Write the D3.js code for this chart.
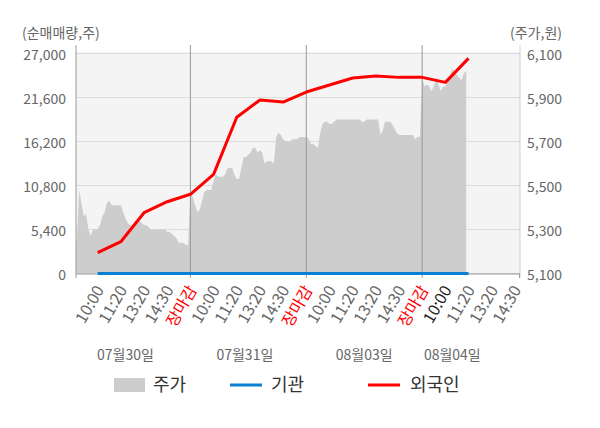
<!DOCTYPE html>
<html><head><meta charset="utf-8">
<script src="https://cdn.jsdelivr.net/npm/d3@7/dist/d3.min.js"></script>
<style>
html,body{margin:0;padding:0;background:#fff;}
text{font-family:"Noto Sans CJK KR","Noto Sans",sans-serif;}
</style></head>
<body><svg id="c" width="600" height="428"></svg>
<script>
// ---- data ----
const leftTicks = [0, 5400, 10800, 16200, 21600, 27000];
const rightTicks = [5100, 5300, 5500, 5700, 5900, 6100];
const timeLabels = ["10:00","11:20","13:20","14:30","장마감",
                    "10:00","11:20","13:20","14:30","장마감",
                    "10:00","11:20","13:20","14:30","장마감",
                    "10:00","11:20","13:20","14:30"];
const dayLabels = ["07월30일","07월31일","08월03일","08월04일"];
const daySlots = [2.2, 7.35, 12.5, 16.3];
const dayBoundaries = [5, 10, 15];
// price sampled every 0.1 slot
const priceValues = [
 5250,5250,5480,5420,5360,5370,5300,5270,5300,5300,
 5300,5320,5360,5380,5420,5430,5410,5410,5410,5410,
 5410,5380,5350,5330,5320,5320,5330,5340,5340,5330,
 5320,5320,5310,5300,5300,5300,5300,5300,5300,5300,
 5290,5290,5280,5270,5260,5240,5240,5240,5230,5230,
 5460,5450,5410,5380,5390,5430,5470,5480,5480,5480,
 5520,5550,5540,5540,5540,5550,5580,5580,5580,5550,
 5530,5530,5580,5630,5630,5640,5650,5670,5670,5650,
 5660,5650,5600,5610,5610,5610,5600,5720,5740,5730,
 5710,5700,5700,5700,5710,5710,5710,5720,5720,5720,
 5720,5710,5690,5690,5680,5670,5740,5780,5790,5790,
 5780,5780,5790,5800,5800,5800,5800,5800,5800,5800,
 5800,5800,5800,5800,5790,5790,5800,5800,5800,5800,
 5800,5800,5730,5750,5790,5790,5790,5780,5760,5740,
 5730,5730,5730,5730,5730,5730,5730,5710,5720,5720,
 5990,5950,5960,5950,5930,5950,5990,5960,5930,5950,
 5950,5980,6000,6030,6020,6000,5990,5980,6010,6020
];
// net buy cumulative at slots 1..17
const flowSlots = [1,2,3,4,5,6,7,8,9,10,11,12,13,14,15,16,17];
const institution = [0,0,0,0,0,0,0,0,0,0,0,0,0,0,0,0,0];
const foreign = [2550,3900,7460,8810,9720,12170,19170,21290,21040,22270,23130,23990,24230,24070,24070,23460,26400];

// ---- layout ----
const svg = d3.select("#c");
const L = 76, R = 520, T = 52, B = 273.5;
const x = d3.scaleLinear().domain([0, 19.22]).range([74.5, 520]);
const yL = d3.scaleLinear().domain([0, 27000]).range([273.5, 53.5]);
const yR = d3.scaleLinear().domain([5100, 6100]).range([273.5, 53.5]);
const grey = "#666";

svg.append("rect").attr("x", L).attr("y", T).attr("width", R - L).attr("height", B - T).attr("fill", "#f4f4f4");

svg.append("defs").append("clipPath").attr("id", "clip")
  .append("rect").attr("x", L).attr("y", T).attr("width", R - L).attr("height", B - T);

// gridlines
svg.append("g").selectAll("line").data(leftTicks).join("line")
  .attr("x1", L).attr("x2", R).attr("y1", d => yL(d)).attr("y2", d => yL(d))
  .attr("stroke", "#dcdcdc").attr("stroke-width", 1);

// price area
const area = d3.area().x((d, i) => x(i * 0.1)).y0(yR(5100)).y1(d => yR(d));
svg.append("path").datum(priceValues).attr("d", area).attr("fill", "#cdcdcd")
  .attr("clip-path", "url(#clip)");

// vertical lines
svg.append("g").selectAll("line").data(dayBoundaries).join("line")
  .attr("x1", d => x(d)).attr("x2", d => x(d)).attr("y1", 45).attr("y2", 278)
  .attr("stroke", "#999").attr("stroke-width", 1);
svg.append("line").attr("x1", L).attr("x2", L).attr("y1", 45).attr("y2", 278).attr("stroke", "#999");
svg.append("line").attr("x1", R).attr("x2", R).attr("y1", 45).attr("y2", 278).attr("stroke", "#d0d0d0");
svg.append("line").attr("x1", L).attr("x2", R).attr("y1", 274).attr("y2", 274).attr("stroke", "#999");
svg.append("line").attr("x1", R - 0.5).attr("x2", R - 0.5).attr("y1", 274).attr("y2", 278).attr("stroke", "#999");

// lines
const lineGen = vals => d3.line().x((d, i) => x(flowSlots[i])).y(d => yL(d))(vals);
svg.append("path").attr("d", lineGen(institution)).attr("fill", "none")
  .attr("stroke", "#0b7fd1").attr("stroke-width", 3);
svg.append("path").attr("d", lineGen(foreign)).attr("fill", "none")
  .attr("stroke", "#ff0000").attr("stroke-width", 3).attr("stroke-linejoin", "round");

// axis labels
svg.append("g").selectAll("text").data(leftTicks).join("text")
  .attr("x", 66).attr("y", d => yL(d) + 1.5).attr("dy", "0.35em")
  .attr("text-anchor", "end").attr("font-size", 14).attr("fill", grey)
  .text(d => d3.format(",")(d));
svg.append("g").selectAll("text").data(rightTicks).join("text")
  .attr("x", 527).attr("y", d => yR(d) + 1.5).attr("dy", "0.35em")
  .attr("text-anchor", "start").attr("font-size", 14).attr("fill", grey)
  .text(d => d3.format(",")(d));
svg.append("text").attr("x", 22).attr("y", 33).attr("dy", "0.35em")
  .attr("font-size", 14).attr("fill", grey).text("(순매매량,주)");
svg.append("text").attr("x", 562).attr("y", 33).attr("dy", "0.35em")
  .attr("text-anchor", "end").attr("font-size", 14).attr("fill", grey).text("(주가,원)");

// time labels
svg.append("g").selectAll("text").data(timeLabels).join("text")
  .attr("transform", (d, i) => `translate(${x(i + 1) + 2},${287}) rotate(-60)`)
  .attr("text-anchor", "end").attr("dy", "0.35em").attr("font-size", 16)
  .attr("fill", (d, i) => d === "장마감" ? "#ff0000" : (i === 15 ? "#222" : grey))
  .text(d => d);

// day labels
svg.append("g").selectAll("text").data(dayLabels).join("text")
  .attr("x", (d, i) => x(daySlots[i])).attr("y", 355).attr("dy", "0.35em")
  .attr("text-anchor", "middle").attr("font-size", 14).attr("fill", grey)
  .text(d => d);

// legend
const lg = svg.append("g");
lg.append("rect").attr("x", 114).attr("y", 378).attr("width", 31).attr("height", 14).attr("fill", "#cdcdcd");
lg.append("text").attr("x", 153).attr("y", 385).attr("dy", "0.35em").attr("font-size", 18).attr("fill", "#333").text("주가");
lg.append("line").attr("x1", 230).attr("x2", 262).attr("y1", 385).attr("y2", 385).attr("stroke", "#0b7fd1").attr("stroke-width", 3);
lg.append("text").attr("x", 271).attr("y", 385).attr("dy", "0.35em").attr("font-size", 18).attr("fill", "#333").text("기관");
lg.append("line").attr("x1", 368).attr("x2", 400).attr("y1", 385).attr("y2", 385).attr("stroke", "#ff0000").attr("stroke-width", 3);
lg.append("text").attr("x", 410).attr("y", 385).attr("dy", "0.35em").attr("font-size", 18).attr("fill", "#333").text("외국인");
</script></body></html>
